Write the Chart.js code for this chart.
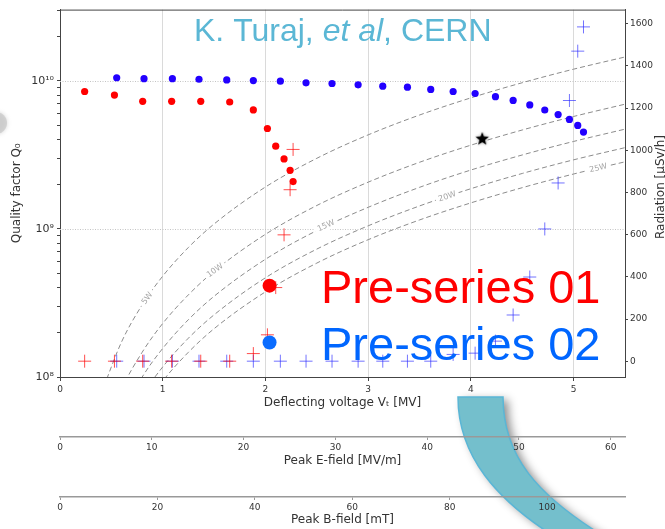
<!DOCTYPE html>
<html>
<head>
<meta charset="utf-8">
<script src="https://cdn.jsdelivr.net/npm/chart.js@4"></script>
<style>
  body { margin: 0; background: #fff; }
  canvas { display: block; }
</style>
</head>
<body>
<canvas id="qChart" width="665" height="529"></canvas>
<script>
// Pre-series 01 (red): deflecting voltage [MV], Q0, radiation [uSv/h]
const voltage01 = [0.24, 0.53, 0.805, 1.087, 1.37, 1.652, 1.882, 2.019, 2.10, 2.181, 2.24, 2.269];
const q01 = [8.48e9, 8.02e9, 7.28e9, 7.28e9, 7.28e9, 7.2e9, 6.37e9, 4.77e9, 3.62e9, 2.97e9, 2.49e9, 2.09e9];
const rad01 = [0, 0, 0, 0, 0, 0, 36, 125, 349, 599, 813, 1004];

// Pre-series 02 (blue)
const voltage02 = [0.552, 0.818, 1.094, 1.353, 1.623, 1.882, 2.145, 2.395, 2.648, 2.902, 3.142, 3.382,
                   3.609, 3.827, 4.041, 4.239, 4.411, 4.573, 4.719, 4.849, 4.959, 5.04, 5.096];
const q02 = [1.05e10, 1.035e10, 1.035e10, 1.026e10, 1.015e10, 1.005e10, 9.95e9, 9.7e9, 9.6e9, 9.4e9, 9.21e9, 9.07e9,
             8.75e9, 8.48e9, 8.22e9, 7.82e9, 7.38e9, 6.88e9, 6.36e9, 5.92e9, 5.49e9, 5.0e9, 4.51e9];
const rad02 = [0, 0, 0, 0, 0, 0, 0, 0, 0, 0, 0, 0, 0, 32, 38, 95, 219, 399, 627, 845, 1236, 1470, 1585];

// specification point (star)
const starV = [4.11];
const starQ = [4.05e9];

// legend markers next to the labels
const legendV = [2.04, 2.04];
const legendQ = [4.14e8, 1.71e8];

// constant dissipated power curves
const curveV = [0.4, 0.6, 0.8, 1.0, 1.25, 1.5, 2.0, 2.5, 3.0, 3.5, 4.0, 4.5, 5.0, 5.5];
const curve5W = [7.7e7, 1.73e8, 3.07e8, 4.8e8, 7.5e8, 1.08e9, 1.92e9, 3.0e9, 4.32e9, 5.88e9, 7.68e9, 9.72e9, 1.2e10, 1.45e10];
const curve10W = [3.7e7, 8.3e7, 1.47e8, 2.3e8, 3.59e8, 5.18e8, 9.2e8, 1.44e9, 2.07e9, 2.82e9, 3.68e9, 4.66e9, 5.75e9, 6.96e9];
const curve15W = [2.5e7, 5.6e7, 1.0e8, 1.56e8, 2.44e8, 3.51e8, 6.24e8, 9.75e8, 1.4e9, 1.91e9, 2.5e9, 3.16e9, 3.9e9, 4.72e9];
const curve20W = [1.9e7, 4.2e7, 7.5e7, 1.17e8, 1.83e8, 2.63e8, 4.68e8, 7.31e8, 1.05e9, 1.43e9, 1.87e9, 2.37e9, 2.93e9, 3.54e9];
const curve25W = [1.5e7, 3.4e7, 6.0e7, 9.4e7, 1.47e8, 2.12e8, 3.76e8, 5.88e8, 8.46e8, 1.15e9, 1.5e9, 1.9e9, 2.35e9, 2.84e9];
const wattCurves = [curve5W, curve10W, curve15W, curve20W, curve25W];
const wattLabels = ['5W', '10W', '15W', '20W', '25W'];
const wattLabelV = [0.85, 1.509, 2.59, 3.77, 5.24];
const wattLabelQ = [3.4e8, 5.24e8, 1.05e9, 1.65e9, 2.57e9];

// ticks
const voltageTicks = [0, 1, 2, 3, 4, 5];
const qTicks = [1e8, 2e8, 3e8, 4e8, 5e8, 6e8, 7e8, 8e8, 9e8,
                1e9, 2e9, 3e9, 4e9, 5e9, 6e9, 7e9, 8e9, 9e9, 1e10, 2e10, 3e10];
const qMajorTicks = [1e8, 1e9, 1e10];
const qTickLabels = ['10⁸', '10⁹', '10¹⁰'];
const radTicks = [0, 200, 400, 600, 800, 1000, 1200, 1400, 1600];
const eFieldTicks = [0, 10, 20, 30, 40, 50, 60];
const bFieldTicks = [0, 20, 40, 60, 80, 100];

const tickFont = { family: 'DejaVu Sans', size: 9 };
const axisTitleFont = { family: 'DejaVu Sans', size: 12 };

function makeStar(r) {
    const s = Math.ceil(r * 2 + 8);
    const c = document.createElement('canvas');
    c.width = s; c.height = s;
    const g = c.getContext('2d');
    g.shadowColor = 'rgba(0,0,0,0.45)';
    g.shadowBlur = 3;
    g.beginPath();
    for (let i = 0; i < 10; i++) {
        const a = -Math.PI / 2 + i * Math.PI / 5;
        const rr = i % 2 ? r * 0.42 : r;
        g.lineTo(s / 2 + rr * Math.cos(a), s / 2 + rr * Math.sin(a));
    }
    g.closePath();
    g.fillStyle = '#000';
    g.fill();
    return c;
}

const pts = (xs, ys) => xs.map((v, i) => ({ x: v, y: ys[i] }));

const datasets = [];
wattCurves.forEach((q, i) => {
    datasets.push({
        type: 'line',
        data: pts(curveV, q),
        yAxisID: 'y',
        borderColor: '#8c8c8c',
        borderWidth: 1,
        borderDash: [5, 3],
        pointRadius: 0,
        cubicInterpolationMode: 'monotone',
        fill: false,
        order: 10,
        wattIndex: i
    });
});
datasets.push({ type: 'scatter', data: pts(voltage02, rad02), yAxisID: 'y2', pointStyle: 'cross',
    pointRadius: 6.5, borderColor: 'rgba(40,40,255,0.65)', borderWidth: 1, order: 6 });
datasets.push({ type: 'scatter', data: pts(voltage01, rad01), yAxisID: 'y2', pointStyle: 'cross',
    pointRadius: 6.5, borderColor: 'rgba(255,0,0,0.7)', borderWidth: 1, order: 5 });
datasets.push({ type: 'scatter', data: pts(voltage02, q02), yAxisID: 'y', pointStyle: 'circle',
    pointRadius: 3.6, backgroundColor: '#2200ff', borderWidth: 0, order: 4 });
datasets.push({ type: 'scatter', data: pts(voltage01, q01), yAxisID: 'y', pointStyle: 'circle',
    pointRadius: 3.6, backgroundColor: '#ff0000', borderWidth: 0, order: 3 });
datasets.push({ type: 'scatter', data: pts(starV, starQ), yAxisID: 'y', pointStyle: makeStar(7),
    pointRadius: 7, order: 2 });
datasets.push({ type: 'scatter', data: pts(legendV, legendQ), yAxisID: 'y', pointStyle: 'circle',
    pointRadius: 7, backgroundColor: ['#ff0000', '#0a6cff'], borderWidth: 0, order: 1 });

const decorations = {
    id: 'decorations',
    beforeDraw(chart) {
        const ctx = chart.ctx;
        ctx.save();
        ctx.fillStyle = '#fff';
        ctx.fillRect(0, 0, chart.width, chart.height);
        // grey blob on the left edge
        ctx.fillStyle = 'rgba(200,200,200,0.7)';
        ctx.shadowColor = 'rgba(160,160,160,0.6)';
        ctx.shadowBlur = 4;
        ctx.beginPath();
        ctx.arc(-4, 123, 11, 0, Math.PI * 2);
        ctx.fill();
        // teal curved band
        ctx.shadowColor = 'rgba(0,0,0,0.45)';
        ctx.shadowBlur = 10;
        ctx.shadowOffsetX = 5;
        ctx.shadowOffsetY = 3;
        ctx.beginPath();
        ctx.moveTo(458, 397);
        ctx.lineTo(503, 397);
        ctx.bezierCurveTo(503, 455, 535, 495, 610, 540);
        ctx.lineTo(560, 540);
        ctx.bezierCurveTo(495, 500, 458, 455, 458, 397);
        ctx.closePath();
        ctx.fillStyle = '#74bfcc';
        ctx.fill();
        ctx.shadowColor = 'transparent';
        ctx.strokeStyle = '#5ab6d6';
        ctx.lineWidth = 1.5;
        ctx.stroke();
        ctx.restore();
    },
    beforeDatasetsDraw(chart) {
        const { ctx, chartArea: a, scales } = chart;
        ctx.save();
        ctx.strokeStyle = '#c4c4c4';
        ctx.lineWidth = 1;
        ctx.setLineDash([1, 1.5]);
        qMajorTicks.forEach(v => {
            const y = Math.round(scales.y.getPixelForValue(v)) + 0.5;
            if (y < a.bottom - 1) {
                ctx.beginPath();
                ctx.moveTo(a.left, y);
                ctx.lineTo(a.right, y);
                ctx.stroke();
            }
        });
        ctx.restore();
    },
    afterDatasetDraw(chart, args) {
        const ds = chart.data.datasets[args.index];
        if (ds.wattIndex === undefined) return;
        const i = ds.wattIndex;
        const { ctx, scales } = chart;
        const meta = args.meta;
        let j = 0;
        while (j < curveV.length - 2 && curveV[j + 1] <= wattLabelV[i]) j++;
        const pa = meta.data[j], pb = meta.data[j + 1];
        const ang = Math.atan2(pb.y - pa.y, pb.x - pa.x);
        const x = scales.x.getPixelForValue(wattLabelV[i]);
        const y = scales.y.getPixelForValue(wattLabelQ[i]);
        ctx.save();
        ctx.translate(x, y);
        ctx.rotate(ang);
        ctx.font = '8px "DejaVu Sans"';
        const w = ctx.measureText(wattLabels[i]).width;
        ctx.fillStyle = '#fff';
        ctx.fillRect(-w / 2 - 3, -5, w + 6, 10);
        ctx.fillStyle = '#a6a6a6';
        ctx.textAlign = 'center';
        ctx.textBaseline = 'middle';
        ctx.fillText(wattLabels[i], 0, 0);
        ctx.restore();
    },
    afterDraw(chart) {
        const { ctx, chartArea: a } = chart;
        ctx.save();
        // top spine
        ctx.strokeStyle = '#444';
        ctx.lineWidth = 1;
        ctx.beginPath();
        ctx.moveTo(a.left, a.top + 0.5);
        ctx.lineTo(a.right, a.top + 0.5);
        ctx.stroke();

        // title
        ctx.fillStyle = '#5bb7d5';
        ctx.textBaseline = 'alphabetic';
        let x = 194;
        ctx.font = '32px "Liberation Sans"';
        ctx.fillText('K. Turaj, ', x, 41);
        x += ctx.measureText('K. Turaj, ').width;
        ctx.font = 'italic 32px "Liberation Sans"';
        ctx.fillText('et al', x, 41);
        x += ctx.measureText('et al').width;
        ctx.font = '32px "Liberation Sans"';
        ctx.fillText(', CERN', x, 41);

        // series labels
        ctx.font = '47px "Liberation Sans"';
        ctx.fillStyle = '#ff0000';
        ctx.fillText('Pre-series 01', 321, 303);
        ctx.fillStyle = '#0066ff';
        ctx.fillText('Pre-series 02', 321, 360);

        // right axis title (reads bottom to top)
        ctx.translate(661, 187);
        ctx.rotate(-Math.PI / 2);
        ctx.font = '12px "DejaVu Sans"';
        ctx.fillStyle = '#333';
        ctx.textAlign = 'center';
        ctx.textBaseline = 'middle';
        ctx.fillText('Radiation [µSv/h]', 0, 0);
        ctx.restore();
    }
};

new Chart(document.getElementById('qChart'), {
    type: 'scatter',
    data: { datasets: datasets },
    options: {
        responsive: false,
        animation: false,
        events: [],
        layout: { padding: { top: 6, left: 0, right: 0, bottom: 0 } },
        plugins: { legend: { display: false }, tooltip: { enabled: false } },
        scales: {
            x: {
                type: 'linear', position: 'bottom', weight: 0, min: 0, max: 5.5,
                afterBuildTicks: s => { s.ticks = voltageTicks.map(v => ({ value: v })); },
                afterFit: s => { s.height = 60; },
                ticks: { font: tickFont, color: '#333', padding: 3, autoSkip: false, maxRotation: 0, callback: v => String(v) },
                grid: { color: c => (c.tick && c.tick.value === 0) ? 'rgba(0,0,0,0)' : '#dadada', tickColor: '#444', tickLength: 4 },
                border: { color: '#444' },
                title: { display: true, text: 'Deflecting voltage Vₜ [MV]', font: axisTitleFont, color: '#333', padding: { top: 0, bottom: 27 } }
            },
            xE: {
                type: 'linear', position: 'bottom', weight: 1, min: 0, max: 61.55,
                afterBuildTicks: s => { s.ticks = eFieldTicks.map(v => ({ value: v })); },
                afterFit: s => { s.height = 60; },
                ticks: { font: tickFont, color: '#333', padding: 2, autoSkip: false, maxRotation: 0, callback: v => String(v) },
                grid: { drawOnChartArea: false, tickColor: '#999', tickLength: 3 },
                border: { color: '#999', width: 1.5 },
                title: { display: true, text: 'Peak E-field [MV/m]', font: axisTitleFont, color: '#333', padding: { top: 0, bottom: 29 } }
            },
            xB: {
                type: 'linear', position: 'bottom', weight: 2, min: 0, max: 116,
                afterBuildTicks: s => { s.ticks = bFieldTicks.map(v => ({ value: v })); },
                afterFit: s => { s.height = 32; },
                ticks: { font: tickFont, color: '#333', padding: 2, autoSkip: false, maxRotation: 0, callback: v => String(v) },
                grid: { drawOnChartArea: false, tickColor: '#999', tickLength: 3 },
                border: { color: '#999', width: 1.5 },
                title: { display: true, text: 'Peak B-field [mT]', font: axisTitleFont, color: '#333', padding: { top: 0, bottom: 2 } }
            },
            y: {
                type: 'logarithmic', position: 'left', min: 1e8, max: 3.03e10,
                afterBuildTicks: s => { s.ticks = qTicks.map(v => ({ value: v, major: qMajorTicks.includes(v) })); },
                afterFit: s => { s.width = 60; },
                ticks: {
                    font: { family: 'DejaVu Sans', size: 11 }, color: '#333', padding: 3, autoSkip: false,
                    callback: v => { const k = qMajorTicks.indexOf(v); return k >= 0 ? qTickLabels[k] : ''; }
                },
                grid: { drawOnChartArea: false, tickColor: '#444', tickLength: 3 },
                border: { color: '#444' },
                title: { display: true, text: 'Quality factor Q₀', font: axisTitleFont, color: '#333', padding: { top: 10, bottom: 0 } }
            },
            y2: {
                type: 'linear', position: 'right', min: -75, max: 1667,
                afterBuildTicks: s => { s.ticks = radTicks.map(v => ({ value: v })); },
                afterFit: s => { s.width = 40; },
                ticks: { font: tickFont, color: '#333', padding: 2, autoSkip: false, callback: v => String(v) },
                grid: { drawOnChartArea: false, tickColor: '#444', tickLength: 3 },
                border: { color: '#444' }
            }
        }
    },
    plugins: [decorations]
});
</script>
</body>
</html>
